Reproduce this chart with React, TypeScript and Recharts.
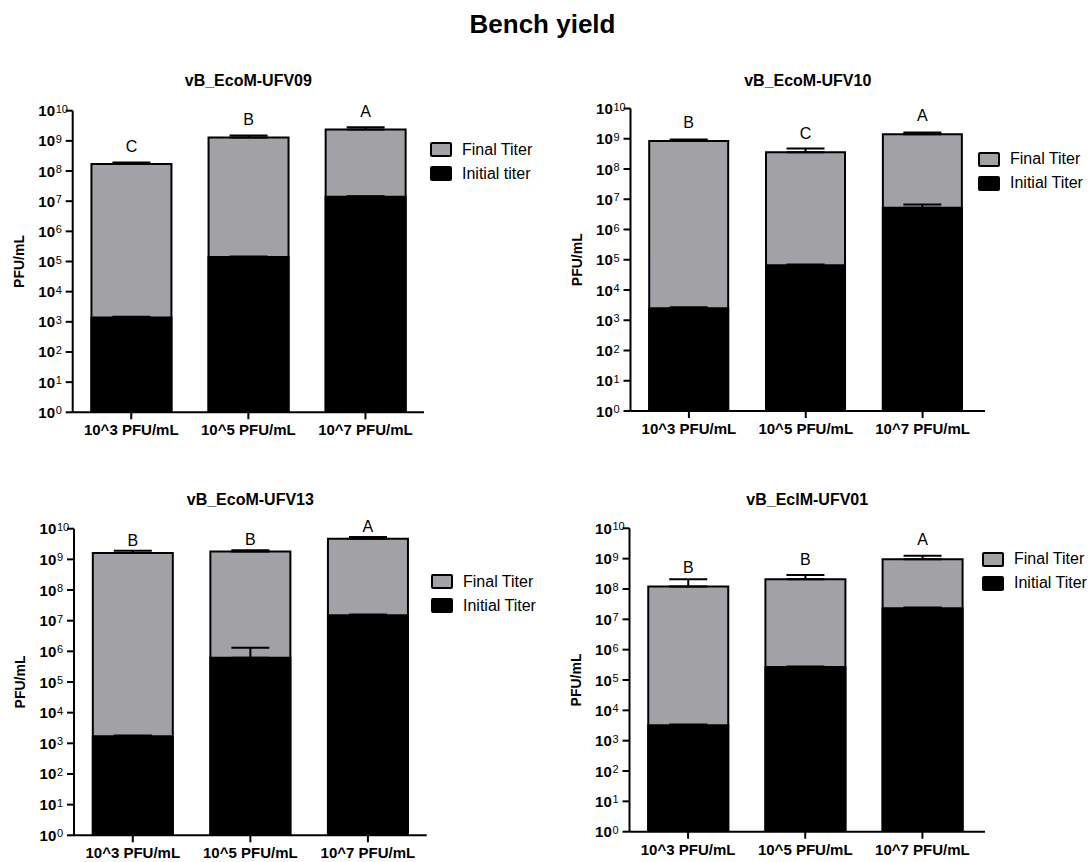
import { BarChart, Bar, XAxis, YAxis, ErrorBar, LabelList, Legend } from "recharts";

// Inoculum levels on the x axis
const doses = ["10^3 PFU/mL", "10^5 PFU/mL", "10^7 PFU/mL"];
const yTicks = [1, 1e1, 1e2, 1e3, 1e4, 1e5, 1e6, 1e7, 1e8, 1e9, 1e10];

// vB_EcoM-UFV09
const ufv09Final = [1.7e8, 1.3e9, 2.4e9];
const ufv09FinalErr = [2e7, 2e8, 4e8];
const ufv09Initial = [1.4e3, 1.4e5, 1.4e7];
const ufv09InitialErr = [60, 6e3, 6e5];
const ufv09Letters = ["C", "B", "A"];

// vB_EcoM-UFV10
const ufv10Final = [8.5e8, 3.6e8, 1.4e9];
const ufv10FinalErr = [1e8, 1.2e8, 2e8];
const ufv10Initial = [2.5e3, 6.6e4, 5.2e6];
const ufv10InitialErr = [200, 4e3, 1.5e6];
const ufv10Letters = ["B", "C", "A"];

// vB_EcoM-UFV13
const ufv13Final = [1.6e9, 1.8e9, 4.7e9];
const ufv13FinalErr = [3e8, 2e8, 7e8];
const ufv13Initial = [1.7e3, 6.2e5, 1.5e7];
const ufv13InitialErr = [100, 7e5, 1e6];
const ufv13Letters = ["B", "B", "A"];

// vB_EclM-UFV01
const ufv01Final = [1.2e8, 2.1e8, 9.5e8];
const ufv01FinalErr = [9e7, 8e7, 3e8];
const ufv01Initial = [3.2e3, 2.7e5, 2.3e7];
const ufv01InitialErr = [200, 1e4, 1.5e6];
const ufv01Letters = ["B", "B", "A"];

const FONT = "'Liberation Sans', Arial, sans-serif";
const GREY = "#a2a2a6";

const buildRows = (
  final: number[],
  finalErr: number[],
  initial: number[],
  initialErr: number[],
  letters: string[]
) =>
  doses.map((dose, i) => ({
    dose,
    final: final[i],
    finalErr: finalErr[i],
    initial: initial[i],
    initialErr: initialErr[i],
    letter: letters[i],
  }));

const panels = [
  {
    title: "vB_EcoM-UFV09",
    initialName: "Initial titer",
    rows: buildRows(ufv09Final, ufv09FinalErr, ufv09Initial, ufv09InitialErr, ufv09Letters),
    box: { left: 0, top: 95, width: 546, height: 350 },
    axisX: 72.7, plotTop: 110.7, plotBottom: 412.3, plotRight: 424, padRight: 0,
    legend: { left: 430, top: 42.8 },
    letterOffset: 12,
    titleY: 73,
  },
  {
    title: "vB_EcoM-UFV10",
    initialName: "Initial Titer",
    rows: buildRows(ufv10Final, ufv10FinalErr, ufv10Initial, ufv10InitialErr, ufv10Letters),
    box: { left: 560, top: 95, width: 532, height: 350 },
    axisX: 630.5, plotTop: 108.5, plotBottom: 411, plotRight: 985, padRight: 4,
    legend: { left: 418, top: 52.2 },
    letterOffset: 13,
    titleY: 73,
  },
  {
    title: "vB_EcoM-UFV13",
    initialName: "Initial Titer",
    rows: buildRows(ufv13Final, ufv13FinalErr, ufv13Initial, ufv13InitialErr, ufv13Letters),
    box: { left: 0, top: 512, width: 546, height: 350 },
    axisX: 74, plotTop: 528.7, plotBottom: 835.3, plotRight: 426.7, padRight: 0,
    legend: { left: 431, top: 57.5 },
    letterOffset: 7,
    titleY: 492,
  },
  {
    title: "vB_EclM-UFV01",
    initialName: "Initial Titer",
    rows: buildRows(ufv01Final, ufv01FinalErr, ufv01Initial, ufv01InitialErr, ufv01Letters),
    box: { left: 560, top: 512, width: 532, height: 350 },
    axisX: 629.5, plotTop: 528.3, plotBottom: 831.7, plotRight: 985, padRight: 4,
    legend: { left: 422, top: 35.2 },
    letterOffset: 14,
    titleY: 492,
  },
];

// "10" with a superscript exponent
const PowerTick = (props: any) => {
  const { x, y, payload } = props;
  const exp = Math.round(Math.log10(payload.value));
  return (
    <g>
      <text x={x - 10.7} y={y + 5.5} textAnchor="end" fontSize={15} fontWeight="bold" fill="#000" fontFamily={FONT}>
        10
      </text>
      <text x={x - 10} y={y + 2} textAnchor="start" fontSize={11} fill="#000" fontFamily={FONT}>
        {exp}
      </text>
    </g>
  );
};

const DoseTick = (props: any) => {
  const { x, y, payload } = props;
  return (
    <text x={x} y={y} dy={14} textAnchor="middle" fontSize={15} fontWeight="bold" fill="#000" fontFamily={FONT}>
      {payload.value}
    </text>
  );
};

const yTitle = (props: any) => {
  const { viewBox } = props;
  const cx = viewBox.x + viewBox.width - 54;
  const cy = viewBox.y + viewBox.height / 2;
  return (
    <text
      x={cx}
      y={cy}
      transform={`rotate(-90 ${cx} ${cy})`}
      textAnchor="middle"
      dominantBaseline="central"
      fontSize={14}
      fontWeight="bold"
      fill="#000"
      fontFamily={FONT}
    >
      PFU/mL
    </text>
  );
};

const renderLegend = (props: any) => (
  <div style={{ fontFamily: FONT, fontSize: 16, color: "#000", whiteSpace: "nowrap" }}>
    {props.payload.map((entry: any) => (
      <div key={entry.value} style={{ display: "flex", alignItems: "center", height: 24 }}>
        <span
          style={{
            display: "inline-block",
            width: 22,
            height: 15,
            boxSizing: "border-box",
            border: "2px solid #000",
            borderRadius: 2,
            background: entry.color,
          }}
        />
        <span style={{ marginLeft: 10 }}>{entry.value}</span>
      </div>
    ))}
  </div>
);

const axisStroke = { stroke: "#000", strokeWidth: 2 };

const Panel = ({ p }: { p: (typeof panels)[number] }) => {
  const { box } = p;
  const margin = {
    top: p.plotTop - box.top,
    right: box.left + box.width - p.plotRight,
    bottom: 0,
    left: 0,
  };
  const yWidth = p.axisX - box.left;
  const xHeight = box.top + box.height - p.plotBottom;
  const padding = { left: 0, right: p.padRight };
  return (
    <>
      <div
        style={{
          position: "absolute",
          left: box.left + yWidth,
          width: p.plotRight - p.axisX,
          top: p.titleY,
          textAlign: "center",
          fontFamily: FONT,
          fontSize: 16,
          lineHeight: "16px",
          fontWeight: "bold",
        }}
      >
        {p.title}
      </div>
      <div style={{ position: "absolute", left: box.left, top: box.top }}>
        <BarChart width={box.width} height={box.height} data={p.rows} margin={margin} barCategoryGap="16%">
          <XAxis
            xAxisId="main"
            dataKey="dose"
            height={xHeight}
            padding={padding}
            axisLine={axisStroke}
            tickLine={axisStroke}
            tickSize={7}
            tick={<DoseTick />}
            interval={0}
          />
          {/* second band axis so the initial-titer bar sits in front of the final-titer bar */}
          <XAxis xAxisId="front" dataKey="dose" orientation="top" hide padding={padding} />
          <YAxis
            type="number"
            scale="log"
            domain={[1, 1e10]}
            allowDataOverflow
            ticks={yTicks}
            interval={0}
            width={yWidth}
            axisLine={axisStroke}
            tickLine={axisStroke}
            tickSize={7}
            tickMargin={0}
            tick={<PowerTick />}
            label={yTitle}
          />
          <Legend
            layout="vertical"
            align="center"
            verticalAlign="middle"
            wrapperStyle={{ left: p.legend.left, top: p.legend.top, width: 130 }}
            content={renderLegend}
          />
          <Bar
            xAxisId="main"
            dataKey="final"
            name="Final Titer"
            fill={GREY}
            stroke="#000"
            strokeWidth={2}
            isAnimationActive={false}
          >
            <ErrorBar dataKey={(d: any) => [0, d.finalErr]} width={19} stroke="#000" strokeWidth={2} direction="y" />
            <LabelList dataKey="letter" position="top" offset={p.letterOffset} fill="#000" fontSize={16} fontFamily={FONT} />
          </Bar>
          <Bar
            xAxisId="front"
            dataKey="initial"
            name={p.initialName}
            fill="#000"
            stroke="#000"
            strokeWidth={2}
            isAnimationActive={false}
          >
            <ErrorBar dataKey={(d: any) => [0, d.initialErr]} width={19} stroke="#000" strokeWidth={2} direction="y" />
          </Bar>
        </BarChart>
      </div>
    </>
  );
};

export default function App() {
  return (
    <div
      style={{
        position: "absolute",
        left: 0,
        top: 0,
        width: 1092,
        height: 862,
        background: "#fff",
        overflow: "hidden",
      }}
    >
      <div
        style={{
          position: "absolute",
          left: 0,
          top: 11,
          width: 1085,
          textAlign: "center",
          fontFamily: FONT,
          fontSize: 26,
          lineHeight: "26px",
          fontWeight: "bold",
        }}
      >
        Bench yield
      </div>
      {panels.map((p) => (
        <Panel key={p.title} p={p} />
      ))}
    </div>
  );
}
